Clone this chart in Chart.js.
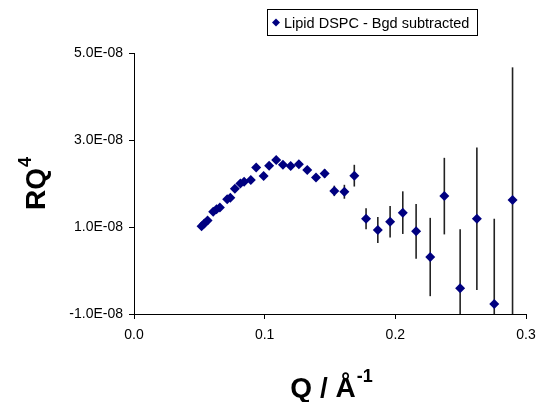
<!DOCTYPE html>
<html>
<head>
<meta charset="utf-8">
<script src="https://cdn.jsdelivr.net/npm/chart.js@4.4.0/dist/chart.umd.min.js"></script>
<style>
  body { margin: 0; background: #fff; }
  #wrap { width: 540px; height: 402px; }
</style>
</head>
<body>
<div id="wrap"><canvas id="chart" width="540" height="402"></canvas></div>
<script>
// Q (1/Å)
const qValues = [0.0517, 0.0538, 0.0563, 0.0606, 0.0632, 0.0657, 0.0713, 0.0737, 0.0772, 0.0814,
  0.0843, 0.0894, 0.0935, 0.0992, 0.1034, 0.1088, 0.1140, 0.1199, 0.1262, 0.1326,
  0.1393, 0.1459, 0.1533, 0.1610, 0.1686, 0.1776, 0.1866, 0.1960, 0.2057, 0.2159,
  0.2267, 0.2375, 0.2496, 0.2624, 0.2757, 0.2897];
// RQ^4 (x 1e-8)
const rq4Values = [1.02, 1.08, 1.15, 1.35, 1.41, 1.45, 1.64, 1.67, 1.88, 2.00,
  2.04, 2.08, 2.37, 2.17, 2.41, 2.54, 2.43, 2.40, 2.44, 2.31,
  2.14, 2.23, 1.83, 1.81, 2.18, 1.19, 0.93, 1.12, 1.33, 0.90,
  0.31, 1.71, -0.41, 1.19, -0.77, 1.62];
// error bar half-length (x 1e-8)
const errValues = [0, 0, 0, 0, 0, 0, 0, 0, 0, 0,
  0, 0, 0, 0, 0, 0, 0, 0, 0, 0,
  0.03, 0.10, 0.12, 0.16, 0.25, 0.24, 0.30, 0.36, 0.49, 0.63,
  0.90, 0.88, 1.36, 1.64, 1.96, 3.05];
const xTicks = [0, 0.1, 0.2, 0.3];
const yTicks = [-1e-8, 1e-8, 3e-8, 5e-8];
const seriesLabel = "Lipid DSPC - Bgd subtracted";

const font = "'Liberation Sans', Arial, sans-serif";
const navy = "#000080";

const points = qValues.map((q, i) => ({ x: q, y: rq4Values[i] * 1e-8, e: errValues[i] * 1e-8 }));

function fmtExp(v) {
  let s = v.toExponential(1).toUpperCase();
  return s.replace(/E([+-])(\d)$/, "E$10$2").replace("E+", "E");
}

const errorBars = {
  id: "errorBars",
  beforeDatasetsDraw(chart) {
    const ctx = chart.ctx, a = chart.chartArea;
    const xs = chart.scales.x, ys = chart.scales.y;
    ctx.save();
    ctx.beginPath();
    ctx.rect(a.left, a.top - 20, a.right - a.left, a.bottom - a.top + 20);
    ctx.clip();
    ctx.strokeStyle = "#222";
    ctx.lineWidth = 1.6;
    points.forEach(p => {
      if (!p.e) return;
      const px = xs.getPixelForValue(p.x);
      ctx.beginPath();
      ctx.moveTo(px, ys.getPixelForValue(p.y + p.e));
      ctx.lineTo(px, Math.min(ys.getPixelForValue(p.y - p.e), a.bottom));
      ctx.stroke();
    });
    ctx.restore();
  }
};

const decorations = {
  id: "decorations",
  afterDraw(chart) {
    const ctx = chart.ctx;
    ctx.save();
    // legend box
    ctx.fillStyle = "#fff";
    ctx.fillRect(267, 9, 211, 27);
    ctx.strokeStyle = "#000";
    ctx.lineWidth = 1;
    ctx.strokeRect(267.5, 9.5, 210, 26);
    ctx.fillStyle = navy;
    ctx.beginPath();
    ctx.moveTo(276, 18.5); ctx.lineTo(280, 22.5); ctx.lineTo(276, 26.5); ctx.lineTo(272, 22.5);
    ctx.closePath(); ctx.fill();
    ctx.fillStyle = "#000";
    ctx.font = "14.5px " + font;
    ctx.textBaseline = "alphabetic";
    ctx.textAlign = "left";
    ctx.fillText(seriesLabel, 284, 28);

    // x axis title
    ctx.font = "bold 28px " + font;
    const main = "Q / Å";
    const w1 = ctx.measureText(main).width;
    ctx.font = "bold 18px " + font;
    const w2 = ctx.measureText("-1").width;
    let sx = 331 - (w1 + w2) / 2;
    ctx.font = "bold 28px " + font;
    ctx.fillText(main, sx, 397);
    ctx.font = "bold 18px " + font;
    ctx.fillText("-1", sx + w1 + 1, 382);

    // y axis title
    ctx.translate(45, 184);
    ctx.rotate(-Math.PI / 2);
    ctx.font = "bold 28px " + font;
    const r1 = ctx.measureText("RQ").width;
    ctx.font = "bold 18px " + font;
    const r2 = ctx.measureText("4").width;
    const rx = -(r1 + r2) / 2;
    ctx.font = "bold 28px " + font;
    ctx.fillText("RQ", rx, 0);
    ctx.font = "bold 18px " + font;
    ctx.fillText("4", rx + r1 + 1, -14);
    ctx.restore();
  }
};

new Chart(document.getElementById("chart"), {
  type: "scatter",
  data: {
    datasets: [{
      label: seriesLabel,
      data: points,
      pointStyle: "rectRot",
      pointRadius: 5,
      pointHoverRadius: 5,
      backgroundColor: navy,
      borderColor: navy,
      borderWidth: 0
    }]
  },
  options: {
    responsive: false,
    animation: false,
    layout: { padding: { left: 0, top: 53, right: 14, bottom: 0 } },
    plugins: { legend: { display: false }, tooltip: { enabled: false } },
    scales: {
      x: {
        type: "linear", min: 0, max: 0.3,
        afterBuildTicks(s) { s.ticks = xTicks.map(v => ({ value: v })); },
        afterFit(s) { s.height = 88; s.paddingRight = 0; s.paddingLeft = 0; },
        grid: { drawOnChartArea: false, drawTicks: true, tickLength: 5, color: "#000" },
        border: { display: true, color: "#000", width: 1 },
        ticks: { padding: 8, color: "#000", font: { family: font, size: 14 }, maxRotation: 0,
          callback: v => v.toFixed(1) }
      },
      y: {
        type: "linear", min: -1e-8, max: 5e-8,
        afterBuildTicks(s) { s.ticks = yTicks.map(v => ({ value: v })); },
        afterFit(s) { s.width = 134; },
        grid: { drawOnChartArea: false, drawTicks: true, tickLength: 5, color: "#000" },
        border: { display: true, color: "#000", width: 1 },
        ticks: { padding: 6, color: "#000", font: { family: font, size: 14 },
          callback: v => fmtExp(v) }
      }
    }
  },
  plugins: [errorBars, decorations]
});
</script>
</body>
</html>
